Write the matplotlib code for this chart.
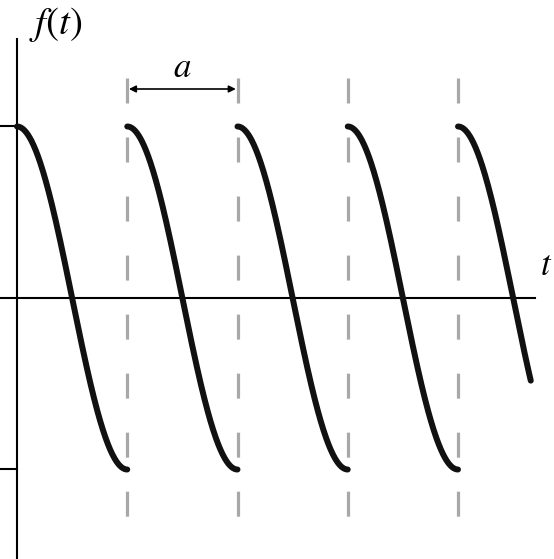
import matplotlib.pyplot as plt
import numpy as np

plt.rcParams['mathtext.fontset'] = 'stix'
plt.rcParams['lines.scale_dashes'] = False

# the function: f(t) = cos(pi (t mod a) / a), drawn in units of a
period = 1.0
amplitude = 1.0
t_end = 4.66
marker_periods = [1, 2, 3, 4]
arrow_span = (1, 2)

# pixel layout of the reference (a ~ 110.25 px, f=1 ~ 171.5 px)
px_a = 110.25
px_amp = 171.5
x0_px, y0_px = 17, 298
W, H = 554, 559

fig = plt.figure(figsize=(W / 100, H / 100), dpi=100)
ax = fig.add_axes([0, 0, 1, 1])
ax.set_xlim(-x0_px / px_a, (W - x0_px) / px_a)
ax.set_ylim(-(H - y0_px) / px_amp, y0_px / px_amp)
ax.axis('off')

# axes lines
ax.plot([0, 0], [-(H - y0_px) / px_amp, (y0_px - 39) / px_amp], color='black', lw=1.5)
ax.plot([-x0_px / px_a, (535 - x0_px) / px_a], [0, 0], color='black', lw=1.5)
for lev in [amplitude, -amplitude]:
    ax.plot([-x0_px / px_a, 0], [lev, lev], color='black', lw=1.5)

# dashed period markers
for k in marker_periods:
    ax.plot([k * period, k * period], [(y0_px - 78) / px_amp, -(520 - y0_px) / px_amp],
            color='#a8a8a8', lw=2.3, dashes=(18, 24.5), solid_capstyle='butt')

# curve, one piece per period
starts = np.arange(0, t_end, period)
for s in starts:
    e = min(s + period, t_end)
    t = np.linspace(s, e, 200)
    f = amplitude * np.cos(np.pi * (t - s) / period)
    ax.plot(t, f, color='#111111', lw=4.3, solid_capstyle='round')

# a-arrow
ya = (y0_px - 89) / px_amp
ax.annotate('', xy=(arrow_span[1] - 0.015, ya), xytext=(arrow_span[0] + 0.015, ya),
            arrowprops=dict(arrowstyle='<|-|>', color='black', lw=1.2,
                            mutation_scale=10, shrinkA=0, shrinkB=0))
ax.text((arrow_span[0] + arrow_span[1]) / 2, (y0_px - 67) / px_amp, r'$a$',
        fontsize=25, ha='center', va='center')

ax.text((29 - x0_px) / px_a, (y0_px - 25) / px_amp, r'$f(t)$', fontsize=28,
        ha='left', va='center')
ax.text((540 - x0_px) / px_a, (y0_px - 265) / px_amp, r'$t$', fontsize=25,
        ha='left', va='center')

fig.savefig('out.png', dpi=100)
